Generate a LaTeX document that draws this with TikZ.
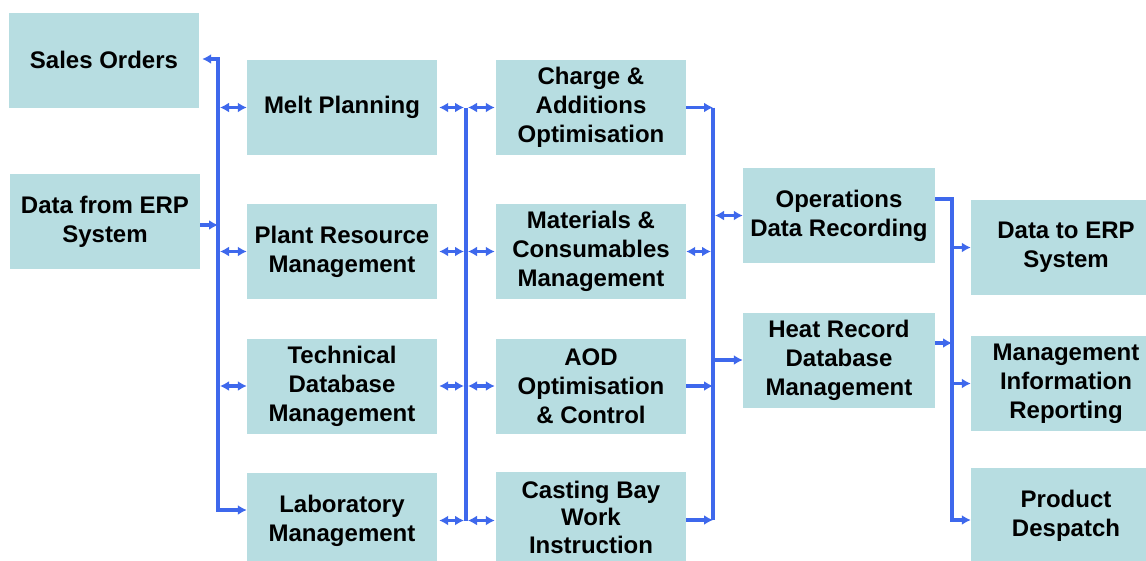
\documentclass[tikz,border=0pt]{standalone}
\usepackage{fontspec}
\setmainfont{Liberation Sans}
\usetikzlibrary{arrows.meta}
\definecolor{boxfill}{RGB}{183,221,225}
\definecolor{linkblue}{RGB}{62,104,236}
\begin{document}
\begin{tikzpicture}[x=1pt,y=-1pt,
  box/.style={fill=boxfill, minimum width=190pt, minimum height=95pt, inner sep=0pt,
    align=center, font=\fontsize{24}{29}\selectfont\bfseries},
  link/.style={draw=linkblue, line width=3.2pt},
  >={Latex[length=9pt,width=10pt]}]
\path[use as bounding box, clip] (0,0) rectangle (1146,560);
\fill[white] (0,0) rectangle (1146,560);

% column 0
\node[box] (so)   at (104,60)    {Sales Orders};
\node[box] (erp)  at (105,221.5) {Data from ERP\\System};
% column 1
\node[box] (melt)  at (342,107.5) {Melt Planning};
\node[box] (plant) at (342,251.5) {Plant Resource\\Management};
\node[box] (tech)  at (342,386)   {Technical\\Database\\Management};
\node[box] (lab)   at (342,520.5) {Laboratory\\Management};
% column 2
\node[box] (charge) at (591,107.5) {Charge \&\\Additions\\Optimisation};
\node[box] (mat)    at (591,251.5) {Materials \&\\Consumables\\Management};
\node[box] (aod)    at (591,386)   {AOD\\Optimisation\\\& Control};
\node[box, minimum height=90pt, font=\fontsize{24}{27.5}\selectfont\bfseries] (cast) at (591,517) {Casting Bay\\Work\\Instruction};
% column 3
\node[box, minimum width=192pt] (ops)  at (839,215.5) {Operations\\Data Recording};
\node[box, minimum width=192pt] (heat) at (839,360)   {Heat Record\\Database\\Management};
% column 4
\node[box] (dto)  at (1066,247.5) {Data to ERP\\System};
\node[box] (mir)  at (1066,383.5) {Management\\Information\\Reporting};
\node[box] (prod) at (1066,515.5) {Product\\Despatch};

% bus positions
\coordinate (B1) at (218,0);
\coordinate (B2) at (466,0);
\coordinate (B3) at (713,0);
\coordinate (B4) at (952,0);
\coordinate (b1t) at (218,59);
\coordinate (b1b) at (218,510);
\coordinate (b1e) at (218,225);
\coordinate (b4t) at (952,199);
\coordinate (b4b) at (952,520);
\coordinate (b4h) at (952,343);
\coordinate (rowfour) at (0,520);

% bus 1
\draw[link,<->,shorten <=3pt] (so.east |- b1t) -- (b1t) -- (b1b) -- (lab.west |- b1b);
\draw[link,->] (erp.east |- b1e) -- (b1e);
\draw[link,<->,shorten <=2pt] (B1 |- melt.west) -- (melt.west);
\draw[link,<->,shorten <=2pt] (B1 |- plant.west) -- (plant.west);
\draw[link,<->,shorten <=2pt] (B1 |- tech.west) -- (tech.west);

% bus 2
\draw[link] (B2 |- melt.east) -- (B2 |- lab.east);
\foreach \a/\b in {melt/charge, plant/mat, tech/aod, lab/cast}{
  \draw[link,<->,shorten >=2pt,shorten <=2pt] (\a.east) -- (B2 |- \a.east);
  \draw[link,<->,shorten <=2pt,shorten >=1pt] (B2 |- \a.east) -- (\b.west |- \a.east);
}

% bus 3
\draw[link] (B3 |- charge.east) -- (B3 |- rowfour);
\draw[link,->] (charge.east) -- (B3 |- charge.east);
\draw[link,<->,shorten >=2pt] (mat.east) -- (B3 |- mat.east);
\draw[link,->] (aod.east) -- (B3 |- aod.east);
\draw[link,->] (cast.east |- rowfour) -- (B3 |- rowfour);
\draw[link,<->,shorten <=2pt] (B3 |- ops.west) -- (ops.west);
\draw[link,->] (B3 |- heat.west) -- (heat.west);

% bus 4
\draw[link,->] (ops.east |- b4t) -- (b4t) -- (b4b) -- (prod.west |- b4b);
\draw[link,->] (heat.east |- b4h) -- (b4h);
\draw[link,->] (B4 |- dto.west) -- (dto.west);
\draw[link,->] (B4 |- mir.west) -- (mir.west);
\end{tikzpicture}
\end{document}
